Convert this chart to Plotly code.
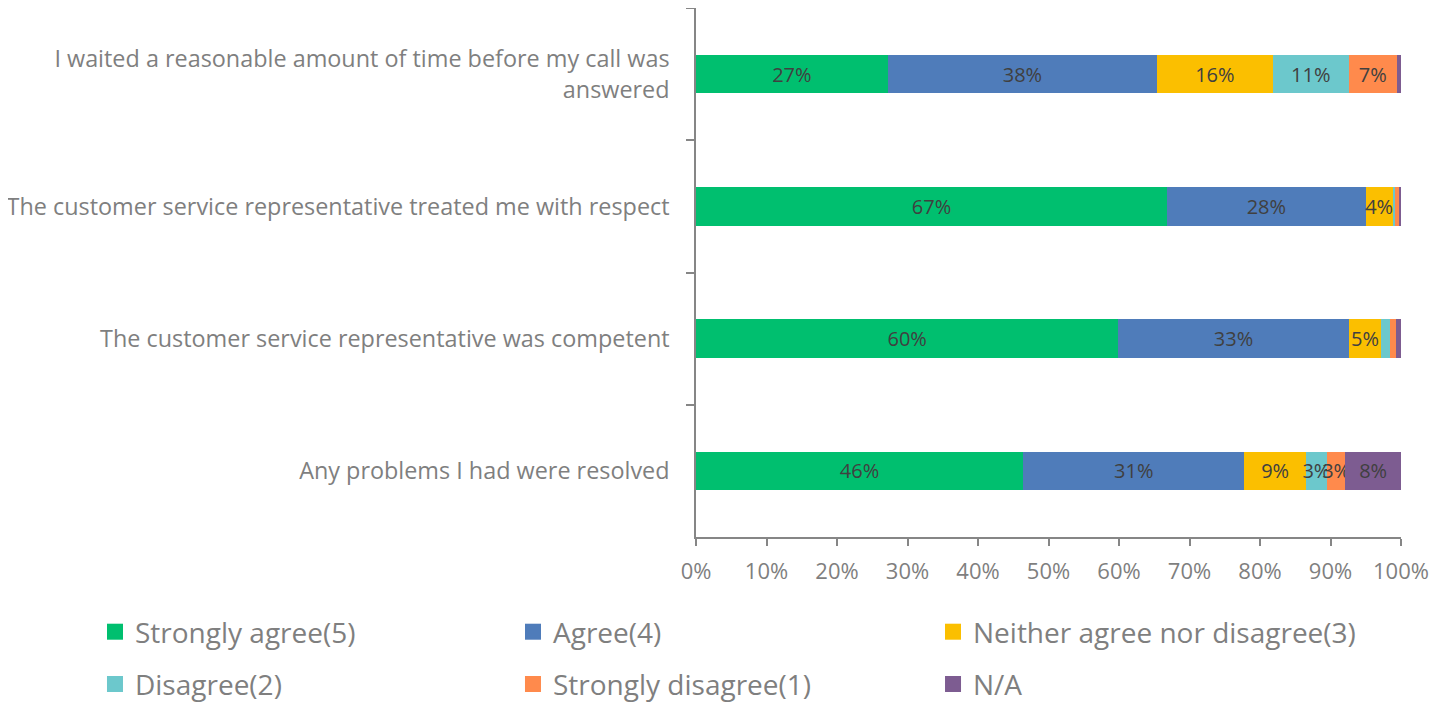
import plotly.graph_objects as go

categories = [
    "I waited a reasonable amount of time before my call was<br>answered",
    "The customer service representative treated me with respect",
    "The customer service representative was competent",
    "Any problems I had were resolved",
]
series_names = ["Strongly agree(5)", "Agree(4)", "Neither agree nor disagree(3)",
                "Disagree(2)", "Strongly disagree(1)", "N/A"]
strongly_agree = [27.2, 66.8, 59.9, 46.4]
agree = [38.2, 28.2, 32.7, 31.4]
neither = [16.4, 3.8, 4.6, 8.7]
disagree = [10.8, 0.4, 1.2, 3.0]
strongly_disagree = [6.8, 0.6, 0.9, 2.6]
na = [0.6, 0.2, 0.7, 7.9]
x_tickvals = [0, 10, 20, 30, 40, 50, 60, 70, 80, 90, 100]
x_ticktext = ["0%", "10%", "20%", "30%", "40%", "50%", "60%", "70%", "80%", "90%", "100%"]

colors = ["#00BF6F", "#4F7CBA", "#FBBF00", "#6CC8CC", "#FF8A4C", "#7D5C91"]
all_values = [strongly_agree, agree, neither, disagree, strongly_disagree, na]

FONT = "Open Sans"
GREY = "#7F7F7F"
AXIS = "#868686"

# legend grid placement (3 columns x 2 rows), in paper coordinates
legend_cols = [-0.8525, -0.2596, 0.3362]
legend_rows = [-0.1796, -0.2785]

fig = go.Figure()
legend_layout = {}
for i, (name, vals, col) in enumerate(zip(series_names, all_values, colors)):
    texts = [f"{round(v)}%" if v >= 2.5 else "" for v in vals]
    fig.add_trace(go.Bar(
        y=categories, x=vals, name=name, orientation="h",
        marker=dict(color=col, line=dict(width=0)),
        text=texts, textposition="inside", insidetextanchor="middle",
        textangle=0, constraintext="none",
        textfont=dict(family=FONT, size=20, color="#404040"),
        showlegend=False, hoverinfo="skip",
    ))
    lg = "legend" if i == 0 else f"legend{i + 1}"
    fig.add_trace(go.Scatter(
        x=[None], y=[None], mode="markers", name=name,
        marker=dict(symbol="square", size=18, color=col),
        legend=lg, showlegend=True,
    ))
    legend_layout[lg] = dict(
        x=legend_cols[i % 3], y=legend_rows[i // 3],
        xanchor="left", yanchor="middle", orientation="h",
        font=dict(family=FONT, size=28, color=GREY),
        bgcolor="rgba(0,0,0,0)", borderwidth=0, itemclick=False,
    )

fig.update_layout(
    width=1433, height=695,
    barmode="stack", bargap=0.71,
    plot_bgcolor="white", paper_bgcolor="white",
    margin=dict(l=688, r=40, t=0, b=166, autoexpand=False),
    font=dict(family=FONT, color=GREY, size=20),
    xaxis=dict(
        range=[0, 100], tickvals=x_tickvals, ticktext=x_ticktext,
        showgrid=False, zeroline=False,
        showline=True, linecolor=AXIS, linewidth=1.5,
        ticks="outside", ticklen=7, tickcolor=AXIS, tickwidth=1.5,
        tickfont=dict(family=FONT, size=22, color=GREY),
        ticklabelstandoff=7,
    ),
    yaxis=dict(
        type="category", categoryorder="array", categoryarray=categories,
        autorange="reversed",
        showgrid=False, zeroline=False,
        showline=True, linecolor=AXIS, linewidth=1.5,
        ticks="outside", ticklen=8, tickcolor=AXIS, tickwidth=1.5,
        tickson="boundaries",
        tickfont=dict(family=FONT, size=23.4, color=GREY),
        ticklabelstandoff=20,
    ),
    **legend_layout,
)

fig.write_html("out.html")
